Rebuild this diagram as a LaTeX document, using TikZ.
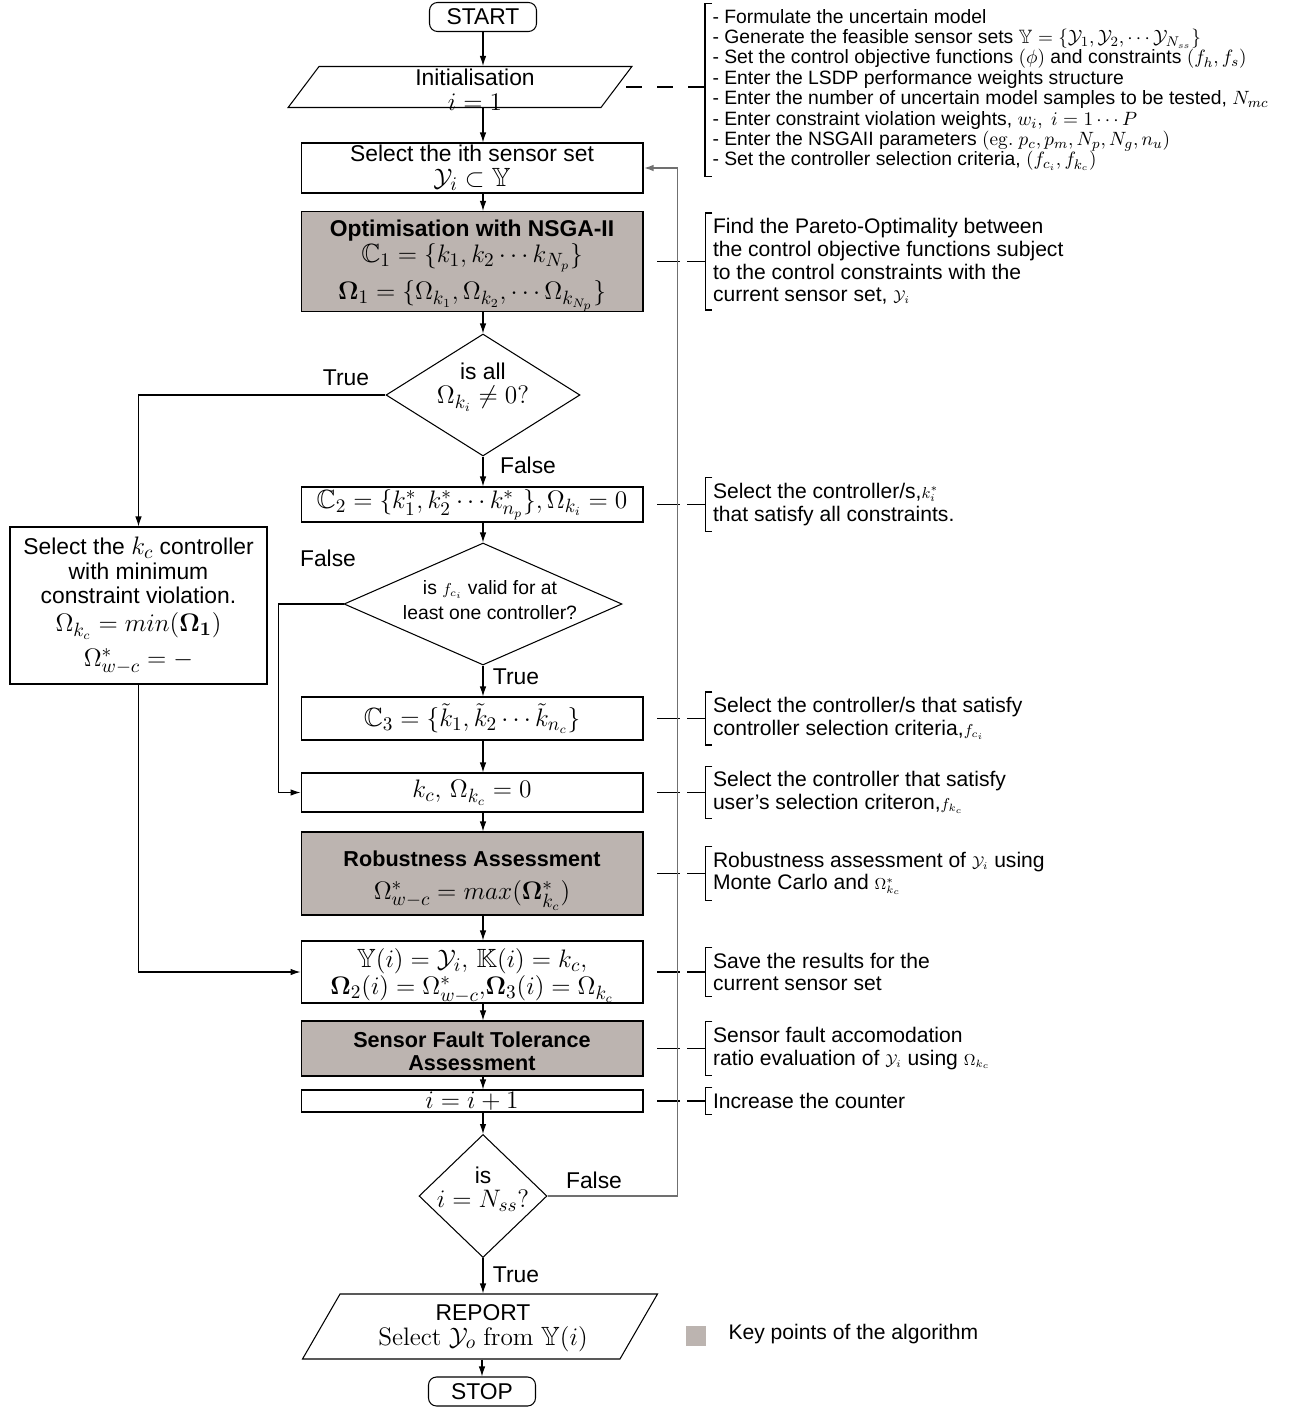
\documentclass[tikz,border=0pt]{standalone}
\usepackage{amsmath,amssymb}
\usepackage[no-math]{fontspec}
\setmainfont{Liberation Sans}
\usetikzlibrary{shapes.geometric,arrows.meta,positioning}
\definecolor{keygray}{RGB}{188,180,176}
\definecolor{loopgray}{RGB}{112,112,112}
\newcommand{\fm}[1]{{\fontsize{15}{16}\selectfont$#1$}}
\newcommand{\sm}[1]{{\fontsize{9}{10}\selectfont$#1$}}
\newcommand{\lm}[1]{{\fontsize{11}{11.6}\selectfont$#1$}}

\begin{document}
\begin{tikzpicture}[x=0.02cm,y=-0.02cm,line width=0.6pt,
  >={Latex[length=2mm,width=1.3mm]},
  main node/.style={rectangle,draw,minimum width=6.84cm,inner xsep=2pt,inner ysep=0pt,align=center,font=\fontsize{13}{14}\selectfont},
  key node/.style={main node,fill=keygray},
  term node/.style={rectangle,draw,rounded corners=0.16cm,minimum width=2.14cm,minimum height=0.58cm,inner sep=0pt,font=\fontsize{13}{14}\selectfont},
  io node/.style={trapezium,draw,inner sep=0pt},
  test node/.style={diamond,draw,inner sep=1pt},
  txt/.style={align=center,inner sep=0pt,font=\fontsize{13}{14}\selectfont},
  lbl/.style={inner sep=0pt,font=\fontsize{13}{14}\selectfont},
  note/.style={align=left,inner xsep=0.14cm,inner ysep=0.1cm,font=\fontsize{12}{12.9}\selectfont},
  link/.style={dash pattern=on 0.46cm off 0.14cm},
  loop line/.style={draw=loopgray,line width=1.1pt}]

  \useasboundingbox (0,0) rectangle (1288,1416);

  % main column
  \node[term node] (1) at (483,17) {START};
  \node[io node,trapezium left angle=53,trapezium right angle=127,
    text width=5.64cm,text height=0.41cm,text depth=0.41cm] (2) at (460,87) {};
  \node[txt] (2t) at (475,90) {Initialisation\\\fm{i=1}};
  \node[main node,minimum height=1cm] (3) at (472,168)
    {Select the ith sensor set\\\fm{\mathcal{Y}_i\subset\mathbb{Y}}};
  \node[key node,minimum height=1.9cm] (4) at (472,261.5)
    {\rule{0pt}{14pt}\textbf{Optimisation with NSGA-II}\\[1pt]\fm{\mathbb{C}_1=\{k_1,k_2\cdots k_{N_p}\}}\\[4pt]
     \fm{\mathbf{\Omega}_1=\{\Omega_{k_1},\Omega_{k_2},\cdots\Omega_{k_{N_p}}\}}};
  \node[test node,minimum width=3.88cm,minimum height=2.44cm] (5) at (483,395) {};
  \node[txt] (5t) at (483,387) {is all\\\fm{\Omega_{k_i}\neq 0?}};
  \node[main node,minimum height=0.7cm] (6) at (472,504.5)
    {\fm{\mathbb{C}_2=\{k_1^*,k_2^*\cdots k_{n_p}^*\},\Omega_{k_i}=0}};
  \node[test node,minimum width=5.56cm,minimum height=2.44cm] (7) at (483,604) {};
  \node[txt,font=\fontsize{11}{14}\selectfont] (7t) at (490,600)
    {is \sm{f_{c_i}} valid for at\\least one controller?};
  \node[main node,minimum height=0.86cm] (8) at (472,718.5)
    {\fm{\mathbb{C}_3=\{\tilde{k}_1,\tilde{k}_2\cdots\tilde{k}_{n_c}\}}};
  \node[main node,minimum height=0.78cm] (9) at (472,792.5) {\fm{k_c,\,\Omega_{k_c}=0}};
  \node[key node,minimum height=1.66cm] (10) at (472,873.5)
    {\rule{0pt}{17pt}{\fontsize{12.3}{14}\selectfont\textbf{Robustness Assessment}}\\[5pt]
     \fm{\Omega^*_{w-c}=max(\mathbf{\Omega}^*_{k_c})}};
  \node[main node,minimum height=1.24cm] (11) at (472,972)
    {\rule{0pt}{15pt}\fm{\mathbb{Y}(i)=\mathcal{Y}_i,\,\mathbb{K}(i)=k_c,}\\
     \fm{\mathbf{\Omega}_2(i)=\Omega^*_{w-c}{,}\mathbf{\Omega}_3(i)=\Omega_{k_c}}};
  \node[key node,minimum height=1.1cm,font=\fontsize{12.3}{13}\selectfont] (12) at (472,1048.5)
    {\rule{0pt}{12pt}\textbf{Sensor Fault Tolerance}\\\textbf{Assessment}};
  \node[main node,minimum height=0.44cm] (13) at (472,1101) {\fm{i=i+1}};
  \node[test node,minimum width=2.56cm,minimum height=2.46cm] (14) at (483,1196) {};
  \node[txt] (14t) at (483,1189) {is\\\fm{i=N_{ss}?}};
  \node[io node,trapezium left angle=60,trapezium right angle=120,
    text width=5.6cm,text height=0.65cm,text depth=0.65cm] (15) at (480,1326.5) {};
  \node[txt] (15t) at (483,1328)
    {REPORT\\\fm{\mathrm{Select}\ \mathcal{Y}_o\ \mathrm{from}\ \mathbb{Y}(i)}};
  \node[term node] (16) at (482,1391.5) {STOP};

  % side box
  \node[main node,minimum width=5.14cm,minimum height=3.14cm] (17) at (138.5,605.5)
    {Select the \fm{k_c} controller\\with minimum\\constraint violation.\\[2pt]
     \fm{\Omega_{k_c}=min(\mathbf{\Omega_1})}\\[4pt]\fm{\Omega^*_{w-c}=-}};

  % branch labels
  \node[lbl] (l1) at (346,378) {True};
  \node[lbl] (l2) at (528,465) {False};
  \node[lbl] (l3) at (328,558) {False};
  \node[lbl] (l4) at (516,677) {True};
  \node[lbl] (l5) at (594,1180) {False};
  \node[lbl] (l6) at (516,1275) {True};

  % notes
  \node[note,anchor=west,font=\fontsize{11}{11.6}\selectfont] (21) at (705,90)
    {- Formulate the uncertain model\\
     - Generate the feasible sensor sets \lm{\mathbb{Y}=\{\mathcal{Y}_1,\mathcal{Y}_2,\cdots\mathcal{Y}_{N_{ss}}\}}\\
     - Set the control objective functions \lm{(\phi)} and constraints \lm{(f_h,f_s)}\\
     - Enter the LSDP performance weights structure\\
     - Enter the number of uncertain model samples to be tested, \lm{N_{mc}}\\
     - Enter constraint violation weights, \lm{w_i,\ i=1\cdots P}\\
     - Enter the NSGAII parameters \lm{(\mathrm{eg.}\ p_c,p_m,N_p,N_g,n_u)}\\
     - Set the controller selection criteria, \lm{(f_{c_i},f_{k_c})}};
  \node[note,right=1.24cm of 4] (22)
    {Find the Pareto-Optimality between\\the control objective functions subject\\
     to the control constraints with the\\current sensor set, \sm{\mathcal{Y}_i}};
  \node[note,right=1.24cm of 6] (23)
    {Select the controller/s,\sm{k_i^*}\\that satisfy all constraints.};
  \node[note,right=1.24cm of 8] (24)
    {Select the controller/s that satisfy\\controller selection criteria,\sm{f_{c_i}}};
  \node[note,right=1.24cm of 9] (25)
    {Select the controller that satisfy\\user's selection criteron,\sm{f_{k_c}}};
  \node[note,right=1.24cm of 10] (26)
    {Robustness assessment of \sm{\mathcal{Y}_i} using\\Monte Carlo and \sm{\Omega^*_{k_c}}};
  \node[note,right=1.24cm of 11] (27) {Save the results for the\\current sensor set};
  \node[note,right=1.24cm of 12] (28)
    {Sensor fault accomodation\\ratio evaluation of \sm{\mathcal{Y}_i} using \sm{\Omega_{k_c}}};
  \node[note,right=1.24cm of 13] (29) {Increase the counter};

  \foreach \nn in {21,...,29}
    \draw ([xshift=0.14cm]\nn.north west) -- (\nn.north west) -- (\nn.south west)
      -- ([xshift=0.14cm]\nn.south west);
  \draw[dash pattern=on 0.32cm off 0.3cm] ([xshift=0.18cm]2.right side) -- (2.right side -| 21.west);
  \foreach \a/\b in {4/22,6/23,8/24,9/25,10/26,11/27,12/28,13/29}
    \draw[link] ([xshift=0.28cm]\a.east) -- (\b.west);

  % flow
  \draw[->] (1.south) -- (2.north -| 1);
  \draw[->] (2.south -| 1) -- (3.north -| 1);
  \draw[->] (3.south -| 1) -- (4.north -| 1);
  \draw[->] (4.south -| 1) -- (5.north);
  \draw[->] (5.south) -- (6.north -| 5);
  \draw[->] (6.south -| 5) -- (7.north);
  \draw[->] (7.south) -- (8.north -| 7);
  \draw[->] (8.south -| 1) -- (9.north -| 1);
  \draw[->] (9.south -| 1) -- (10.north -| 1);
  \draw[->] (10.south -| 1) -- (11.north -| 1);
  \draw[->] (11.south -| 1) -- (12.north -| 1);
  \draw[->] (12.south -| 1) -- (13.north -| 1);
  \draw[->] (13.south -| 1) -- (14.north);
  \draw[->] (14.south) -- (15.north -| 14);
  \draw[->] (15.south -| 16) -- (16.north);
  \draw[->] (5.west) -| (17.north);
  \draw[->] (17.south) |- (11.west);
  \draw[->] (7.west) -- ++(-65,0) |- (9.west);
  \draw[->,loop line] (14.east) -- ++(130,0) |- (3.east);

  % legend
  \node[fill=keygray,minimum size=0.4cm,inner sep=0pt] (30) at (696,1336) {};
  \node[lbl,anchor=west,font=\fontsize{12}{13}\selectfont] (31) at (728,1334)
    {Key points of the algorithm};
\end{tikzpicture}
\end{document}
